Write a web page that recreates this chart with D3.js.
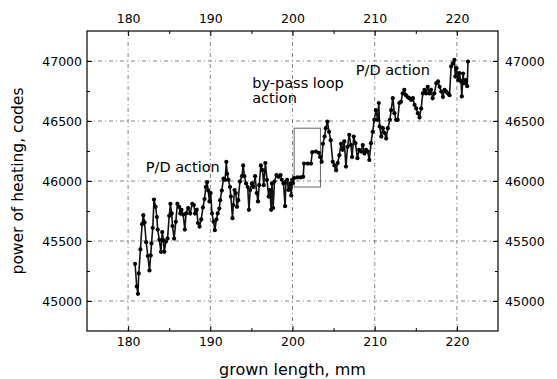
<!DOCTYPE html>
<html>
<head>
<meta charset="utf-8">
<script src="https://cdn.jsdelivr.net/npm/d3@7"></script>
<style>
body{margin:0;background:#fff;}
svg text{font-family:"DejaVu Sans",Arial,sans-serif;fill:#000;}
</style>
</head>
<body>
<svg id="chart" width="557" height="379"></svg>
<script>
var xTicks = [180, 190, 200, 210, 220];
var xMinor = [185, 195, 205, 215];
var yTicks = [45000, 45500, 46000, 46500, 47000];
var yMinor = [45250, 45750, 46250, 46750];

// [grown length mm, power of heating codes]
var series = [
  [180.85,45310],[181.05,45120],[181.2,45060],[181.3,45230],[181.5,45430],[181.7,45640],
  [181.85,45715],[182.0,45655],[182.2,45490],[182.4,45375],[182.6,45255],[182.75,45380],
  [182.85,45480],[183.0,45610],[183.15,45845],[183.35,45785],[183.5,45700],[183.6,45595],
  [183.8,45510],[184.0,45410],[184.15,45575],[184.3,45505],[184.4,45410],[184.6,45495],
  [184.8,45520],[185.0,45710],[185.15,45810],[185.3,45730],[185.4,45625],[185.6,45520],
  [185.8,45660],[186.0,45810],[186.2,45785],[186.35,45730],[186.5,45760],[186.7,45720],
  [186.9,45595],[187.05,45730],[187.3,45775],[187.55,45730],[187.8,45810],[188.0,45800],
  [188.15,45730],[188.35,45760],[188.5,45650],[188.7,45620],[188.9,45680],[189.1,45780],
  [189.3,45850],[189.45,45950],[189.6,45990],[189.75,45920],[189.9,45830],[190.05,45900],
  [190.2,45730],[190.4,45660],[190.55,45590],[190.75,45680],[190.9,45730],[191.1,45770],
  [191.2,45840],[191.4,45920],[191.6,46020],[191.8,46010],[191.95,46160],[192.05,46060],
  [192.2,46010],[192.4,45950],[192.5,45870],[192.7,45690],[192.8,45800],[192.95,45925],
  [193.1,45900],[193.25,45785],[193.4,45840],[193.6,45995],[193.85,46040],[194.0,46130],
  [194.15,46040],[194.35,45980],[194.55,45950],[194.7,45760],[194.85,45925],[195.05,45980],
  [195.25,45950],[195.45,46040],[195.65,45900],[195.8,45830],[195.95,45965],[196.15,46130],
  [196.35,46090],[196.5,45965],[196.7,46150],[196.9,46010],[197.1,45870],[197.25,45925],
  [197.4,45760],[197.5,45980],[197.65,45775],[197.8,45995],[198.05,46050],[198.3,46035],
  [198.55,46050],[198.7,46010],[198.9,45980],[199.1,45790],[199.2,45995],[199.35,46010],
  [199.5,45925],[199.7,45980],[199.85,45880],[199.95,46010],[200.05,45985],[200.2,46025],
  [200.6,46030],[201.0,46030],[201.3,46035],[201.4,46145],[201.85,46145],[202.25,46145],
  [202.4,46240],[202.85,46245],[203.2,46235],[203.35,46200],[203.55,46160],[203.7,46310],
  [203.9,46370],[204.05,46440],[204.25,46495],[204.45,46410],[204.65,46340],[204.9,46160],
  [205.1,46130],[205.3,46090],[205.5,46150],[205.7,46215],[205.9,46310],[206.1,46260],
  [206.3,46330],[206.5,46120],[206.7,46285],[206.9,46385],[207.1,46300],[207.25,46200],
  [207.45,46370],[207.65,46315],[207.9,46190],[208.1,46260],[208.35,46245],[208.55,46300],
  [208.75,46230],[208.95,46260],[209.15,46245],[209.35,46175],[209.55,46315],[209.75,46410],
  [209.95,46510],[210.15,46590],[210.35,46510],[210.5,46650],[210.6,46455],[210.8,46370],
  [211.0,46440],[211.2,46400],[211.4,46355],[211.6,46440],[211.85,46510],[212.0,46590],
  [212.2,46690],[212.4,46565],[212.6,46510],[212.8,46510],[213.0,46650],[213.2,46660],
  [213.4,46730],[213.6,46760],[213.8,46715],[214.0,46700],[214.2,46690],[214.45,46675],
  [214.65,46690],[214.85,46635],[215.05,46605],[215.25,46565],[215.45,46530],[215.65,46605],
  [215.85,46730],[216.05,46760],[216.25,46730],[216.45,46785],[216.65,46730],[216.85,46760],
  [217.05,46690],[217.25,46730],[217.5,46815],[217.7,46830],[217.9,46785],[218.1,46745],
  [218.3,46700],[218.5,46760],[218.7,46745],[218.9,46730],[219.1,46715],[219.3,46955],
  [219.5,46980],[219.7,47010],[219.8,46870],[219.95,46940],[220.15,46840],[220.3,46900],
  [220.5,46830],[220.6,46705],[220.75,46895],[220.9,46815],[221.1,46840],[221.25,46790],
  [221.35,46995]
];

// by-pass loop box: [x0, x1, y0, y1] in data units
var bypassBox = [200.2, 203.4, 45950, 46440];

// annotation lines, anchored in data units
var notes = [
  {lines: ["P/D action"], x: 182.15, y: 46078},
  {lines: ["by-pass loop", "action"], x: 195.1, y: 46775},
  {lines: ["P/D action"], x: 207.7, y: 46883}
];

var margin = {top: 31, right: 59, bottom: 48, left: 87};
var W = 557, H = 379;
var width = W - margin.left - margin.right;
var height = H - margin.top - margin.bottom;

var svg = d3.select("#chart");
var g = svg.append("g").attr("transform", "translate(" + margin.left + "," + margin.top + ")");

var x = d3.scaleLinear().domain([175, 225]).range([0, width]);
var y = d3.scaleLinear().domain([44750, 47250]).range([height, 0]);

// grid
g.append("g").selectAll("line").data(xTicks).enter().append("line")
  .attr("x1", d => x(d)).attr("x2", d => x(d)).attr("y1", 0).attr("y2", height)
  .attr("stroke", "#666").attr("stroke-width", 0.8).attr("stroke-dasharray", "4,3,1,3");
g.append("g").selectAll("line").data(yTicks).enter().append("line")
  .attr("y1", d => y(d)).attr("y2", d => y(d)).attr("x1", 0).attr("x2", width)
  .attr("stroke", "#666").attr("stroke-width", 0.8).attr("stroke-dasharray", "4,3,1,3");

// axes, ticks inward
function styleAxis(sel) {
  sel.select(".domain").remove();
  sel.selectAll("text").style("font-size", "12.5px");
  sel.selectAll("line").attr("stroke", "#000");
}
g.append("g").attr("transform", "translate(0," + height + ")")
  .call(d3.axisBottom(x).tickValues(xTicks).tickSize(-5).tickPadding(6).tickFormat(d3.format("d"))).call(styleAxis);
g.append("g")
  .call(d3.axisTop(x).tickValues(xTicks).tickSize(-5).tickPadding(8).tickFormat(d3.format("d"))).call(styleAxis);
g.append("g")
  .call(d3.axisLeft(y).tickValues(yTicks).tickSize(-5).tickPadding(5).tickFormat(d3.format("d"))).call(styleAxis);
g.append("g").attr("transform", "translate(" + width + ",0)")
  .call(d3.axisRight(y).tickValues(yTicks).tickSize(-5).tickPadding(7).tickFormat(d3.format("d"))).call(styleAxis);

// minor ticks
g.append("g").attr("transform", "translate(0," + height + ")")
  .call(d3.axisBottom(x).tickValues(xMinor).tickSize(-3).tickFormat("")).call(styleAxis);
g.append("g").call(d3.axisTop(x).tickValues(xMinor).tickSize(-3).tickFormat("")).call(styleAxis);
g.append("g").call(d3.axisLeft(y).tickValues(yMinor).tickSize(-3).tickFormat("")).call(styleAxis);
g.append("g").attr("transform", "translate(" + width + ",0)")
  .call(d3.axisRight(y).tickValues(yMinor).tickSize(-3).tickFormat("")).call(styleAxis);

// frame
g.append("rect").attr("width", width).attr("height", height)
  .attr("fill", "none").attr("stroke", "#000").attr("stroke-width", 1.2);

// by-pass loop box
g.append("rect")
  .attr("x", x(bypassBox[0])).attr("y", y(bypassBox[3]))
  .attr("width", x(bypassBox[1]) - x(bypassBox[0]))
  .attr("height", y(bypassBox[2]) - y(bypassBox[3]))
  .attr("fill", "none").attr("stroke", "#666").attr("stroke-width", 1);

// data line + points
var line = d3.line().x(d => x(d[0])).y(d => y(d[1]));
g.append("path").datum(series)
  .attr("d", line).attr("fill", "none").attr("stroke", "#111").attr("stroke-width", 1.6);
g.append("g").selectAll("circle").data(series).enter().append("circle")
  .attr("cx", d => x(d[0])).attr("cy", d => y(d[1])).attr("r", 2.1).attr("fill", "#000");

// annotations
var nt = g.append("g").selectAll("text").data(notes).enter().append("text")
  .attr("x", d => x(d.x)).attr("y", d => y(d.y))
  .style("font-size", "14.5px");
nt.selectAll("tspan").data(d => d.lines.map(s => ({s: s, x: x(d.x)}))).enter().append("tspan")
  .attr("x", d => d.x).attr("dy", (d, i) => i ? 15 : 0)
  .text(d => d.s);

// axis titles
svg.append("text")
  .attr("x", margin.left + width / 2).attr("y", 375)
  .attr("text-anchor", "middle").style("font-size", "16px")
  .text("grown length,  mm");
svg.append("text")
  .attr("transform", "translate(23," + (margin.top + height / 2) + ") rotate(-90)")
  .attr("text-anchor", "middle").style("font-size", "15.5px")
  .text("power of heating,  codes");
</script>
</body>
</html>
